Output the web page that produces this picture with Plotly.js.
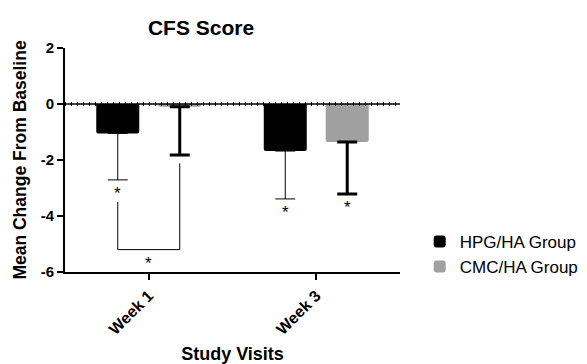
<!DOCTYPE html>
<html><head><meta charset="utf-8">
<script src="https://cdn.plot.ly/plotly-3.0.1.min.js"></script>
<style>body{margin:0;background:#fff}#c{width:587px;height:364px}</style>
</head><body><div id="c"></div>
<script>
const categories = ["Week 1", "Week 3"];
const hpgMean = [-1.05, -1.68];
const hpgErr = [1.66, 1.71];
const cmcMean = [-0.10, -1.36];
const cmcErr = [1.72, 1.85];
const seriesNames = ["HPG/HA Group", "CMC/HA Group"];
// significance markers: [category index, group (0=HPG,1=CMC)]
const starMarks = [[0,0],[1,0],[1,1]];
const bracketBottom = -5.2;
const bracketTopLeft = -3.5;

const bargap = 0.26, bargroupgap = 0.306;
const slot = (1 - bargap) / 2;
const offs = [-slot/2, slot/2];

const font = "Liberation Sans, Arial, sans-serif";
const traces = [
  {type:'bar', name:seriesNames[0], x:[0,1], y:hpgMean,
   marker:{color:'#000000'},
   error_y:{type:'data', symmetric:false, array:[0,0], arrayminus:hpgErr, color:'#000', thickness:1, width:10}},
  {type:'bar', name:seriesNames[1], x:[0,1], y:cmcMean,
   marker:{color:'#a0a0a0'},
   error_y:{type:'data', symmetric:false, array:[0,0], arrayminus:cmcErr, color:'#000', thickness:3, width:10}}
];
const means = [hpgMean, cmcMean], errs = [hpgErr, cmcErr];
const annotations = starMarks.map(([c,g]) => ({
  x: c + offs[g], y: means[g][c] - errs[g][c], xref:'x', yref:'y',
  text:'*', showarrow:false, yanchor:'top', yshift:-2,
  font:{family:font, size:17, color:'#000'}
}));
annotations.push({x:0, y:bracketBottom, xref:'x', yref:'y', text:'*', showarrow:false,
  yanchor:'top', yshift:-2, font:{family:font, size:17, color:'#000'}});

const shapes = [
  {type:'line', xref:'paper', yref:'y', x0:0, x1:1, y0:0, y1:0, line:{color:'#000', width:1.5}},
  {type:'line', xref:'paper', yref:'y', x0:0, x1:1, y0:0, y1:0, line:{color:'#000', width:4, dash:'1px,5px'}},
  {type:'path', xref:'x', yref:'y',
   path:`M ${offs[0]} ${bracketTopLeft} L ${offs[0]} ${bracketBottom} L ${offs[1]} ${bracketBottom} L ${offs[1]} ${cmcMean[0]-cmcErr[0]-0.3}`,
   line:{color:'#000', width:1}}
];

const layout = {
  width:587, height:364,
  margin:{l:65, r:187, t:48, b:92, autoexpand:false},
  paper_bgcolor:'#fff', plot_bgcolor:'#fff',
  barmode:'group', bargap:bargap, bargroupgap:bargroupgap, barcornerradius:2,
  showlegend:true,
  legend:{xref:'container', yref:'container', x:0.715, y:0.385, xanchor:'left', yanchor:'top',
          font:{family:font, size:17, color:'#000'}, tracegroupgap:0, itemwidth:30},
  title:{text:'<b>CFS Score</b>', x:0.406, xref:'paper', xanchor:'center', y:0.925, yanchor:'middle',
         font:{family:font, size:21, color:'#000'}},
  xaxis:{range:[-0.5,1.5], tickvals:[0,1], ticktext:categories.map(c=>'<b>'+c+'</b>'),
         tickangle:-45, ticks:'outside', ticklen:6, tickwidth:2, tickcolor:'#000',
         showline:true, linecolor:'#000', linewidth:2, showgrid:false, zeroline:false,
         tickfont:{family:font, size:16, color:'#000'},
         title:{text:'<b>Study Visits</b>', font:{family:font, size:18, color:'#000'}, standoff:17}},
  yaxis:{range:[-6,2], tickvals:[2,0,-2,-4,-6], ticktext:['2','0','-2','-4','-6'].map(t=>'<b>'+t+'</b>'),
         ticks:'outside', ticklen:6, tickwidth:2, tickcolor:'#000',
         showline:true, linecolor:'#000', linewidth:2, showgrid:false, zeroline:false,
         tickfont:{family:font, size:15, color:'#000'},
         title:{text:'<b>Mean Change From Baseline</b>', font:{family:font, size:17.5, color:'#000'}, standoff:10}},
  annotations:annotations, shapes:shapes
};
Plotly.newPlot('c', traces, layout, {staticPlot:true, displayModeBar:false});
</script></body></html>
